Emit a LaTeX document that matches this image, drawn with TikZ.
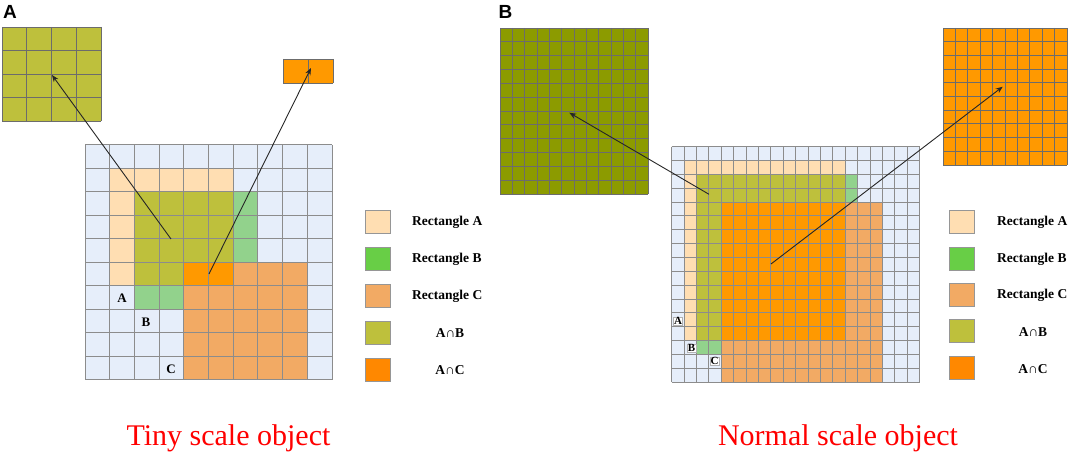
\documentclass[tikz,border=0pt]{standalone}
\usepackage{fontspec}
\setmainfont{Liberation Serif}
\newfontfamily\panelfont{Liberation Sans}
\usetikzlibrary{arrows.meta}
\definecolor{gbg}{RGB}{230,238,250}
\definecolor{gline}{RGB}{140,140,140}
\definecolor{peach}{RGB}{255,222,178}
\definecolor{bgreen}{RGB}{146,210,140}
\definecolor{ctan}{RGB}{242,170,100}
\definecolor{olive}{RGB}{190,192,60}
\definecolor{dolive}{RGB}{140,155,0}
\definecolor{aorange}{RGB}{255,153,0}
\definecolor{lgreen}{RGB}{104,206,70}
\definecolor{lorange}{RGB}{255,136,0}
\definecolor{sline}{RGB}{150,150,150}
\newcommand\cellsL[5]{\fill[#1] ({85+#2*24.7},{145+#3*23.5}) rectangle ({85+(#4+1)*24.7},{145+(#5+1)*23.5});}
\newcommand\cellsR[5]{\fill[#1] ({671.7+#2*12.4},{146.7+#3*13.85}) rectangle ({671.7+(#4+1)*12.4},{146.7+(#5+1)*13.85});}
\newcommand\mygrid[7]{%
  \foreach \i in {0,...,#5} \draw[#7] ({#1+(#3-#1)*\i/#5},#2) -- ({#1+(#3-#1)*\i/#5},#4);
  \foreach \j in {0,...,#6} \draw[#7] (#1,{#2+(#4-#2)*\j/#6}) -- (#3,{#2+(#4-#2)*\j/#6});}
\tikzset{
  gl/.style={draw=gline, line width=1pt},
  il/.style={draw=gray!85!black, line width=0.9pt},
  sw/.style={draw=sline, line width=1pt},
  lgtext/.style={font=\bfseries\fontsize{13.5}{16}\selectfont, inner sep=0pt},
  lblL/.style={font=\bfseries\fontsize{13}{15}\selectfont, inner sep=0.5pt},
  lblR/.style={font=\bfseries\fontsize{11}{13}\selectfont, inner sep=0.6pt, fill=white, draw=gray!60, line width=0.4pt},
  ttl/.style={font=\fontsize{30}{34}\selectfont, text=red, inner sep=0pt, anchor=base},
  panel/.style={font=\panelfont\bfseries\fontsize{19}{21}\selectfont, inner sep=0pt},
  arr/.style={draw=black!85, line width=0.9pt, -{Stealth[length=7pt,width=5.5pt]}}
}
\begin{document}
\begin{tikzpicture}[x=1pt,y=-1pt]
\useasboundingbox (0,0) rectangle (1072,454);
% ---------- Panel A ----------
\node[panel] (pA) at (10,11.5) {A};
% main grid
\cellsL{gbg}{0}{0}{9}{9}
\cellsL{peach}{1}{1}{5}{5}
\cellsL{bgreen}{2}{2}{6}{6}
\cellsL{ctan}{4}{5}{8}{9}
\cellsL{olive}{2}{2}{5}{5}
\cellsL{aorange}{4}{5}{5}{5}
\mygrid{85}{145}{332}{380}{10}{10}{gl}
\node[lblL] (la) at (122,298) {A};
\node[lblL] (lb) at (146,322) {B};
\node[lblL] (lc) at (171,369) {C};
% insets
\fill[olive] (2,27) rectangle (101,121);
\mygrid{2}{27}{101}{121}{4}{4}{il}
\fill[aorange] (283,59) rectangle (333,83);
\mygrid{283}{59}{333}{83}{2}{1}{il}
% arrows
\coordinate (a1s) at (171,239);
\coordinate (a1e) at (52,75);
\coordinate (a2s) at (209,274);
\coordinate (a2e) at (311,68);
\draw[arr] (a1s) -- (a1e);
\draw[arr] (a2s) -- (a2e);
% legend
\draw[sw, fill=peach]   (365,211) rectangle (390,234);
\draw[sw, fill=lgreen]  (365,248) rectangle (390,271);
\draw[sw, fill=ctan]    (365,285) rectangle (390,308);
\draw[sw, fill=olive]   (365,322) rectangle (390,345);
\draw[sw, fill=lorange] (365,359) rectangle (390,382);
\node[lgtext, anchor=west] (tA1) at (412,222.5) {Rectangle A};
\node[lgtext, anchor=west] (tB1) at (412,259.5) {Rectangle B};
\node[lgtext, anchor=west] (tC1) at (412,296.5) {Rectangle C};
\node[lgtext] (tAB1) at (450,333.5) {A∩B};
\node[lgtext] (tAC1) at (450,370.5) {A∩C};
\node[ttl] (t1) at (228.5,446) {Tiny scale object};
% ---------- Panel B ----------
\node[panel] (pB) at (505.5,11.5) {B};
\cellsR{gbg}{0}{0}{19}{16}
\cellsR{peach}{1}{1}{13}{13}
\cellsR{bgreen}{2}{2}{14}{14}
\cellsR{ctan}{4}{4}{16}{16}
\cellsR{olive}{2}{2}{13}{13}
\cellsR{aorange}{4}{4}{13}{13}
\mygrid{671.7}{146.7}{919.7}{382.15}{20}{17}{gl}
\node[lblR] (ra) at (678,321) {A};
\node[lblR] (rb) at (691.5,348) {B};
\node[lblR] (rc) at (714.5,361) {C};
% insets
\fill[dolive] (500,28) rectangle (648,194);
\mygrid{500}{28}{648}{194}{12}{12}{il}
\fill[aorange] (943,28) rectangle (1067,165);
\mygrid{943}{28}{1067}{165}{10}{10}{il}
% arrows
\coordinate (b1s) at (709,194.3);
\coordinate (b1e) at (569.3,112.7);
\coordinate (b2s) at (771,264);
\coordinate (b2e) at (1002.7,86.7);
\draw[arr] (b1s) -- (b1e);
\draw[arr] (b2s) -- (b2e);
% legend
\draw[sw, fill=peach]   (949,211) rectangle (974,234);
\draw[sw, fill=lgreen]  (949,248) rectangle (974,271);
\draw[sw, fill=ctan]    (949,284) rectangle (974,307);
\draw[sw, fill=olive]   (949,320) rectangle (974,343);
\draw[sw, fill=lorange] (949,357) rectangle (974,380);
\node[lgtext, anchor=west] (tA2) at (997,222.5) {Rectangle A};
\node[lgtext, anchor=west] (tB2) at (997,259.5) {Rectangle B};
\node[lgtext, anchor=west] (tC2) at (997,295.5) {Rectangle C};
\node[lgtext] (tAB2) at (1033,332) {A∩B};
\node[lgtext] (tAC2) at (1033,369) {A∩C};
\node[ttl] (t2) at (838,446) {Normal scale object};
\end{tikzpicture}
\end{document}
